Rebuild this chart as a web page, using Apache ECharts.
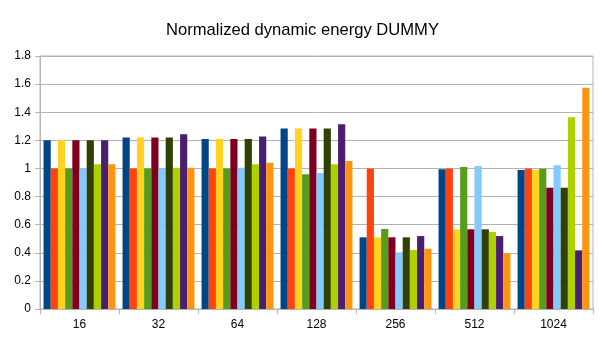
<!DOCTYPE html>
<html>
<head>
<meta charset="utf-8">
<script src="https://cdn.jsdelivr.net/npm/echarts@6/dist/echarts.min.js"></script>
<style>
  html, body { margin: 0; padding: 0; background: #fff; }
  #chart { width: 605px; height: 340px; }
</style>
</head>
<body>
<div id="chart"></div>
<script>
// categories on the x axis
const categories = ['16', '32', '64', '128', '256', '512', '1024'];

// one array per series (10 bars per category)
const s1 = [1.20, 1.22, 1.21, 1.285, 0.51, 0.994, 0.989];
const s2 = [1.00, 1.00, 1.00, 1.00, 1.00, 1.00, 1.00];
const s3 = [1.20, 1.22, 1.21, 1.285, 0.51, 0.567, 0.989];
const s4 = [1.00, 1.00, 1.00, 0.958, 0.569, 1.01, 0.998];
const s5 = [1.20, 1.22, 1.21, 1.285, 0.51, 0.567, 0.863];
const s6 = [1.00, 1.00, 1.005, 0.968, 0.403, 1.017, 1.022];
const s7 = [1.20, 1.22, 1.21, 1.285, 0.51, 0.567, 0.863];
const s8 = [1.03, 1.005, 1.03, 1.03, 0.42, 0.548, 1.364];
const s9 = [1.20, 1.243, 1.228, 1.314, 0.519, 0.519, 0.417];
const s10 = [1.03, 1.005, 1.04, 1.053, 0.429, 0.396, 1.575];

const seriesData = [s1, s2, s3, s4, s5, s6, s7, s8, s9, s10];
const colors = ['#004586', '#ff420e', '#ffd320', '#579d1c', '#7e0021',
                '#83caff', '#314004', '#aecf00', '#4b1f6f', '#ff950e'];

const yTicks = [0, 0.2, 0.4, 0.6, 0.8, 1, 1.2, 1.4, 1.6, 1.8];

const chart = echarts.init(document.getElementById('chart'));

const option = {
  animation: false,
  color: colors,
  textStyle: { fontFamily: 'Liberation Sans' },
  title: {
    text: 'Normalized dynamic energy DUMMY',
    left: 'center',
    top: 17,
    textStyle: { fontSize: 16.6, fontWeight: 'normal', color: '#000', fontFamily: 'Liberation Sans' }
  },
  grid: { left: 40, right: 12, top: 56, bottom: 31, containLabel: false,
    show: true, borderColor: '#b3b3b3', borderWidth: 1 },
  xAxis: {
    type: 'category',
    data: categories,
    axisLine: { lineStyle: { color: '#b3b3b3' } },
    axisTick: { show: true, length: 5, lineStyle: { color: '#b3b3b3' } },
    axisLabel: { color: '#000', fontSize: 12, margin: 10 }
  },
  yAxis: {
    type: 'value',
    min: 0,
    max: 1.8,
    interval: 0.2,
    axisLine: { show: true, lineStyle: { color: '#b3b3b3' } },
    axisTick: { show: true, length: 5, lineStyle: { color: '#b3b3b3' } },
    axisLabel: {
      color: '#000', fontSize: 12, margin: 9,
      formatter: v => {
        const t = yTicks.find(x => Math.abs(x - v) < 1e-6);
        return t === undefined ? '' : String(t);
      }
    },
    splitLine: { lineStyle: { color: '#b3b3b3' } }
  },
  series: seriesData.map((d, i) => ({
    type: 'bar',
    data: d,
    barGap: '0%',
    barCategoryGap: '9%',
    itemStyle: { color: colors[i] }
  }))
};

chart.setOption(option);
</script>
</body>
</html>
